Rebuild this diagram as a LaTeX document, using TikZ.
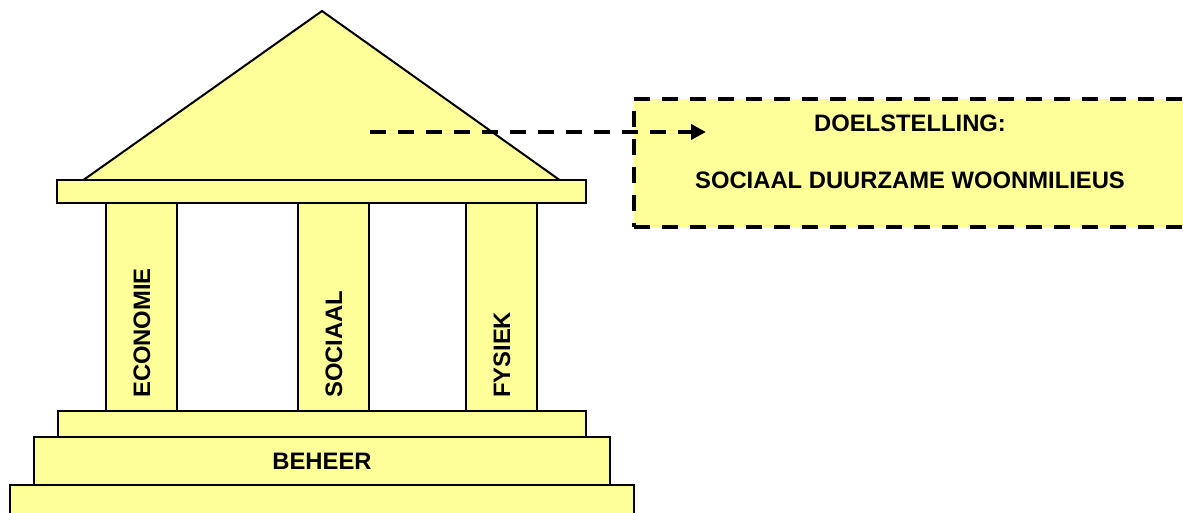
\documentclass[tikz,border=0pt]{standalone}
\usepackage{fontspec}
\setmainfont{Liberation Sans}
\usetikzlibrary{arrows.meta}
\definecolor{paleyellow}{HTML}{FFFF99}
\begin{document}
\begin{tikzpicture}[x=1pt,y=-1pt,
  part/.style={draw=black,fill=paleyellow,line width=2pt,line join=miter},
  block/.style={part,rectangle,inner sep=0pt,outer sep=0pt,anchor=north west},
  label/.style={font=\bfseries\fontsize{23.8}{28}\selectfont,inner sep=0pt},
  collabel/.style={label,rotate=90,anchor=west},
  dashline/.style={line width=4pt,dash pattern=on 16pt off 12pt}]
\useasboundingbox (0,0) rectangle (1183,512);

% roof
\coordinate (apex) at (322,11);
\coordinate (eaveL) at (82,181);
\coordinate (eaveR) at (561,181);
\filldraw[part] (eaveL) -- (apex) -- (eaveR) -- cycle;

% entablature
\node[block,minimum width=529pt,minimum height=23pt] (beam) at (57,180) {};

% columns
\node[block,minimum width=71pt,minimum height=208pt] (colA) at (106,203) {};
\node[block,minimum width=71pt,minimum height=208pt] (colB) at (298,203) {};
\node[block,minimum width=71pt,minimum height=208pt] (colC) at (466,203) {};
\node[collabel] (tA) at (142,398) {ECONOMIE};
\node[collabel] (tB) at (334,398) {SOCIAAL};
\node[collabel] (tC) at (502,398) {FYSIEK};

% steps
\node[block,minimum width=528pt,minimum height=26pt] (step1) at (58,411) {};
\node[block,minimum width=576pt,minimum height=48pt] (step2) at (34,437) {};
\node[block,minimum width=624pt,minimum height=40pt] (step3) at (10,485) {};
\node[label,anchor=base] (beheer) at (322,469) {BEHEER};

% goal box
\node[draw=black,fill=paleyellow,dashline,rectangle,inner sep=0pt,outer sep=0pt,
      anchor=north west,minimum width=560pt,minimum height=128pt] (goal) at (634,99) {};
\node[label,anchor=base] (goalA) at (910,131) {DOELSTELLING:};
\node[label,anchor=base] (goalB) at (910,188) {SOCIAAL DUURZAME WOONMILIEUS};

% arrow from roof to goal
\coordinate (arrowstart) at (370,132);
\coordinate (arrowend) at (706,132);
\draw[dashline,-{Triangle[length=15pt,width=15pt]}] (arrowstart) -- (arrowend);
\end{tikzpicture}
\end{document}
